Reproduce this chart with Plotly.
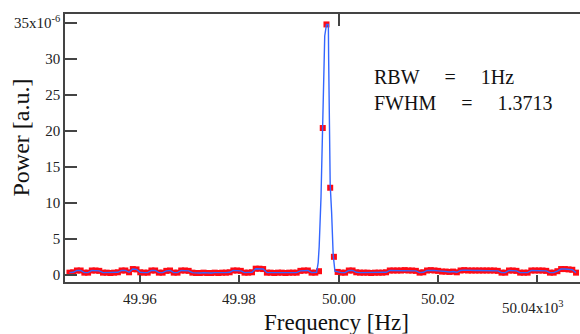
import plotly.graph_objects as go

# ---------------- data ----------------
# sampled frequencies [Hz] (red markers)
red_freq = [
    49945.80, 49946.55, 49947.30, 49948.05, 49948.80, 49949.55, 49950.30, 49951.05, 49951.80, 49952.55,
    49953.30, 49954.05, 49954.80, 49955.55, 49956.30, 49957.05, 49957.80, 49958.55, 49959.30, 49960.05,
    49960.80, 49961.55, 49962.30, 49963.05, 49963.80, 49964.55, 49965.30, 49966.05, 49966.80, 49967.55,
    49968.30, 49969.05, 49969.80, 49970.55, 49971.30, 49972.05, 49972.80, 49973.55, 49974.30, 49975.05,
    49975.80, 49976.55, 49977.30, 49978.05, 49978.80, 49979.55, 49980.30, 49981.05, 49981.80, 49982.55,
    49983.30, 49984.05, 49984.80, 49985.55, 49986.30, 49987.05, 49987.80, 49988.55, 49989.30, 49990.05,
    49990.80, 49991.55, 49992.30, 49993.05, 49993.80, 49994.55, 49995.30, 49996.05, 49996.80, 49997.55,
    49998.30, 49999.05, 49999.80, 50000.55, 50001.30, 50002.05, 50002.80, 50003.55, 50004.30, 50005.05,
    50005.80, 50006.55, 50007.30, 50008.05, 50008.80, 50009.55, 50010.30, 50011.05, 50011.80, 50012.55,
    50013.30, 50014.05, 50014.80, 50015.55, 50016.30, 50017.05, 50017.80, 50018.55, 50019.30, 50020.05,
    50020.80, 50021.55, 50022.30, 50023.05, 50023.80, 50024.55, 50025.30, 50026.05, 50026.80, 50027.55,
    50028.30, 50029.05, 50029.80, 50030.55, 50031.30, 50032.05, 50032.80, 50033.55, 50034.30, 50035.05,
    50035.80, 50036.55, 50037.30, 50038.05, 50038.80, 50039.55, 50040.30, 50041.05, 50041.80, 50042.55,
    50043.30, 50044.05, 50044.80, 50045.55, 50046.30, 50047.05, 50047.80,
]
# power [x1e-6 a.u.]
red_power = [
    0.30, 0.35, 0.60, 0.60, 0.30, 0.30, 0.60, 0.60, 0.55, 0.30,
    0.30, 0.25, 0.30, 0.35, 0.60, 0.60, 0.35, 0.80, 0.75, 0.35,
    0.30, 0.30, 0.60, 0.60, 0.30, 0.30, 0.55, 0.60, 0.30, 0.30,
    0.60, 0.60, 0.55, 0.30, 0.25, 0.25, 0.30, 0.25, 0.25, 0.30,
    0.25, 0.30, 0.30, 0.35, 0.60, 0.60, 0.55, 0.30, 0.30, 0.35,
    0.85, 0.85, 0.80, 0.30, 0.30, 0.25, 0.30, 0.30, 0.25, 0.30,
    0.30, 0.30, 0.55, 0.60, 0.60, 0.30, 0.30, 0.50, 20.4, 34.8,
    12.1, 2.50, 0.40, 0.30, 0.30, 0.60, 0.60, 0.35, 0.30, 0.30,
    0.30, 0.25, 0.30, 0.30, 0.30, 0.35, 0.60, 0.60, 0.60, 0.60,
    0.65, 0.60, 0.60, 0.55, 0.30, 0.35, 0.60, 0.65, 0.60, 0.55,
    0.45, 0.45, 0.40, 0.45, 0.35, 0.60, 0.65, 0.60, 0.60, 0.60,
    0.60, 0.60, 0.60, 0.60, 0.60, 0.55, 0.30, 0.30, 0.60, 0.60,
    0.55, 0.30, 0.30, 0.30, 0.60, 0.60, 0.60, 0.60, 0.55, 0.30,
    0.30, 0.50, 0.80, 0.80, 0.75, 0.70, 0.30,
]
# finer (interpolated) curve around the peak (blue line)
blue_peak_freq = [49995.57, 49995.88, 49996.08, 49996.45, 49996.78, 49996.98, 49997.20,
                  49997.55, 49997.93, 49997.99, 49998.13, 49998.30, 49998.59, 49998.90, 49999.25]
blue_peak_power = [0.35, 1.7, 3.9, 10.8, 20.4, 27.4, 33.2,
                   34.8, 34.8, 29.9, 20.6, 12.5, 8.6, 2.8, 0.5]

x_tick_vals = [49960, 49980, 50000, 50020, 50040]
x_tick_text = ["49.96", "49.98", "50.00", "50.02", "50.04x10<sup>3</sup>"]
y_tick_vals = [0, 5, 10, 15, 20, 25, 30, 35]
y_tick_text = ["0", "5", "10", "15", "20", "25", "30", "35x10<sup>-6</sup>"]
top_tick_vals = [50000]

NB5 = "\u00a0" * 5
annot_lines = ["RBW" + NB5 + "=" + NB5 + "1Hz", "FWHM" + NB5 + "=" + NB5 + "1.3713"]

# blue line = baseline samples + fine peak samples
peak_lo, peak_hi = blue_peak_freq[0], blue_peak_freq[-1]
blue_freq = [f for f in red_freq if f < peak_lo] + blue_peak_freq + [f for f in red_freq if f > peak_hi]
blue_power = ([p for f, p in zip(red_freq, red_power) if f < peak_lo] + blue_peak_power
              + [p for f, p in zip(red_freq, red_power) if f > peak_hi])

FONT = "Liberation Serif"
AX = "#444444"

fig = go.Figure()
fig.add_trace(go.Scatter(x=red_freq, y=red_power, mode="markers",
                         marker=dict(symbol="square", size=6, color="#ff0a14", line=dict(width=0)),
                         hoverinfo="skip"))
fig.add_trace(go.Scatter(x=blue_freq, y=blue_power, mode="lines",
                         line=dict(color="#3366ff", width=1.4), hoverinfo="skip"))
# invisible trace to carry the top axis
fig.add_trace(go.Scatter(x=red_freq, y=red_power, mode="lines", opacity=0,
                         xaxis="x2", hoverinfo="skip", line=dict(width=0)))

xr = [49944.9, 50048.6]
fig.update_layout(
    width=580, height=334,
    margin=dict(l=65, r=0, t=14, b=52),
    plot_bgcolor="white", paper_bgcolor="white",
    showlegend=False,
    font=dict(family=FONT, size=15, color="#222222"),
    xaxis=dict(range=xr, tickvals=x_tick_vals, showticklabels=False, automargin=False,
               ticks="inside", ticklen=7, tickwidth=1.5, tickcolor=AX,
               showline=True, linecolor=AX, linewidth=1.5,
               showgrid=False, zeroline=False),
    xaxis2=dict(range=xr, overlaying="x", side="top", anchor="y", automargin=False,
                tickvals=top_tick_vals, showticklabels=False,
                ticks="inside", ticklen=12, tickwidth=1.5, tickcolor=AX,
                showline=True, linecolor=AX, linewidth=1.5,
                showgrid=False, zeroline=False),
    yaxis=dict(range=[-1.0, 36.25], tickvals=y_tick_vals, ticktext=y_tick_text, automargin=False,
               ticks="inside", ticklen=12, tickwidth=1.5, tickcolor=AX,
               showline=True, linecolor=AX, linewidth=1.5,
               showgrid=False, zeroline=False,
               tickfont=dict(family=FONT, size=15, color="#222222")),
)

# x tick labels
for i, (v, t) in enumerate(zip(x_tick_vals, x_tick_text)):
    last = i == len(x_tick_vals) - 1
    fig.add_annotation(x=v, y=-0.093 if last else -0.0634, xref="x", yref="paper",
                       xshift=-4 if last else 0,
                       text=t, showarrow=False, xanchor="center", yanchor="middle",
                       font=dict(family=FONT, size=15, color="#222222"))

# axis titles
fig.add_annotation(x=0.528, y=-0.152, xref="paper", yref="paper", text="Frequency [Hz]",
                   showarrow=False, xanchor="center", yanchor="middle",
                   font=dict(family=FONT, size=23, color="#111111"))
fig.add_annotation(x=-0.085, y=0.54, xref="paper", yref="paper", text="Power [a.u.]",
                   showarrow=False, textangle=-90, xanchor="center", yanchor="middle",
                   font=dict(family=FONT, size=24, color="#111111"))

# in-plot text
for line, yy in zip(annot_lines, [0.765, 0.668]):
    fig.add_annotation(x=0.596, y=yy, xref="paper", yref="paper", text=line,
                       showarrow=False, xanchor="left", yanchor="middle",
                       font=dict(family=FONT, size=20, color="#111111"))

fig.write_html("out.html", post_script="document.body.style.margin='0';",
               config={"displayModeBar": False})
